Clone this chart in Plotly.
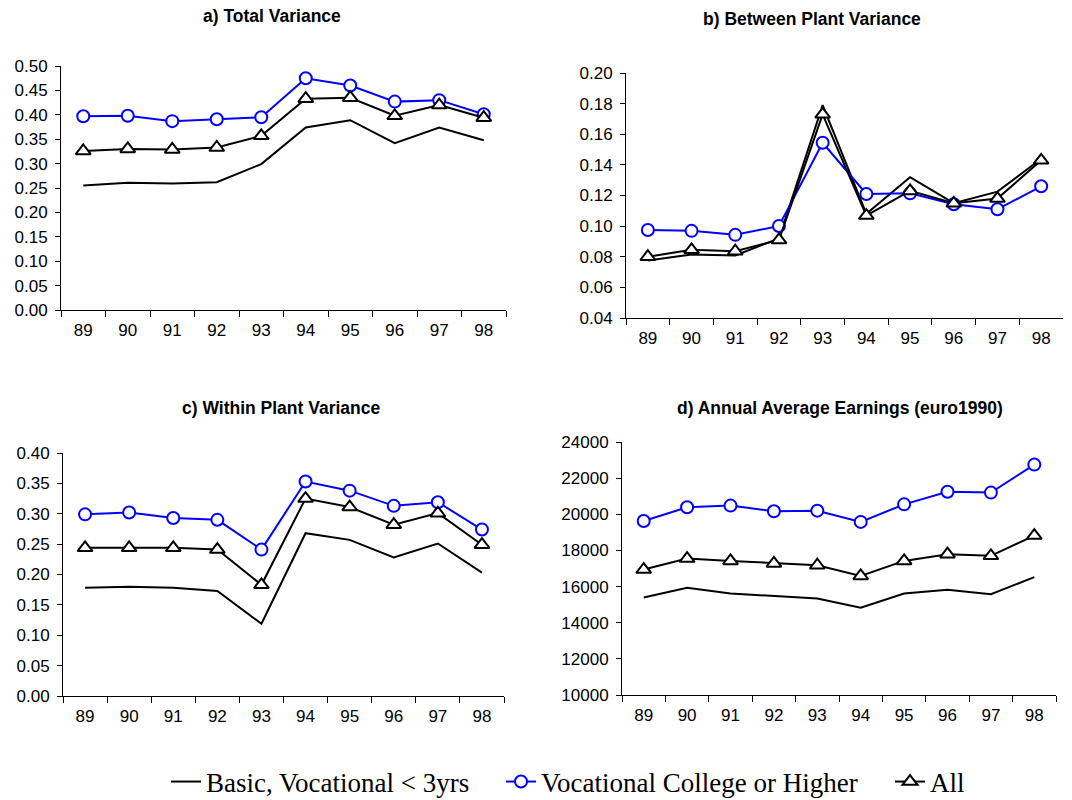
import plotly.graph_objects as go

years = ["89", "90", "91", "92", "93", "94", "95", "96", "97", "98"]

series_names = ["Basic, Vocational < 3yrs", "Vocational College or Higher", "All"]

# a) Total Variance
total_basic = [0.255, 0.261, 0.259, 0.262, 0.299, 0.374, 0.389, 0.342, 0.374, 0.348]
total_voc = [0.397, 0.398, 0.387, 0.391, 0.395, 0.475, 0.460, 0.427, 0.430, 0.401]
total_all = [0.326, 0.330, 0.329, 0.333, 0.357, 0.433, 0.435, 0.398, 0.420, 0.394]

# b) Between Plant Variance
between_basic = [0.0775, 0.0815, 0.0808, 0.092, 0.179, 0.108, 0.132, 0.115, 0.1225, 0.144]
between_voc = [0.0975, 0.0969, 0.0943, 0.1001, 0.1544, 0.121, 0.1214, 0.1143, 0.111, 0.126]
between_all = [0.080, 0.0845, 0.0836, 0.091, 0.173, 0.1069, 0.123, 0.1149, 0.118, 0.143]

# c) Within Plant Variance
within_basic = [0.178, 0.180, 0.178, 0.173, 0.119, 0.268, 0.257, 0.228, 0.251, 0.203]
within_voc = [0.299, 0.302, 0.293, 0.290, 0.241, 0.353, 0.338, 0.313, 0.319, 0.274]
within_all = [0.244, 0.244, 0.244, 0.241, 0.183, 0.325, 0.311, 0.282, 0.301, 0.249]

# d) Annual Average Earnings (euro1990)
earn_basic = [15400, 15930, 15620, 15490, 15340, 14830, 15620, 15820, 15580, 16520]
earn_voc = [19630, 20390, 20480, 20170, 20200, 19580, 20550, 21250, 21200, 22750]
earn_all = [16940, 17550, 17420, 17280, 17180, 16590, 17420, 17790, 17700, 18820]

panels = [
    ("a) Total Variance", [total_basic, total_voc, total_all]),
    ("b) Between Plant Variance", [between_basic, between_voc, between_all]),
    ("c) Within Plant Variance", [within_basic, within_voc, within_all]),
    ("d) Annual Average Earnings (euro1990)", [earn_basic, earn_voc, earn_all]),
]

W, H = 1072, 800

# plot-area pixel boxes: (left, right, top, bottom)
boxes = [
    (61, 506, 66, 310),
    (626, 1063, 73, 318),
    (63, 504, 453, 696),
    (622, 1056, 442, 695),
]
y_ranges = [[0, 0.5], [0.04, 0.2], [0, 0.4], [10000, 24000]]
y_dticks = [0.05, 0.02, 0.05, 2000]
y_formats = [".2f", ".2f", ".2f", "d"]
title_pos = [(272, 16), (812, 19), (281, 408), (840, 408)]

styles = [
    dict(mode="lines", line=dict(color="black", width=2)),
    dict(mode="lines+markers", line=dict(color="#0000ff", width=2),
         marker=dict(symbol="circle", size=12, color="white",
                     line=dict(color="#0000ff", width=2))),
    dict(mode="lines+markers", line=dict(color="black", width=2),
         marker=dict(symbol="triangle-up", size=13, color="white",
                     line=dict(color="black", width=2))),
]

# one legend per series so each entry sits at its own spot along the bottom
legend_ids = ["legend", "legend2", "legend3"]
legend_left = [166, 501, 890]

fig = go.Figure()
tick_font = dict(family="Liberation Sans, Arial, sans-serif", size=17, color="black")

for i, (title, data) in enumerate(panels):
    ax = "" if i == 0 else str(i + 1)
    for j, vals in enumerate(data):
        fig.add_trace(go.Scatter(
            x=years, y=vals, name=series_names[j],
            xaxis="x" + ax, yaxis="y" + ax,
            legend=legend_ids[j],
            showlegend=(i == 0), hoverinfo="skip", **styles[j]))

    l, r, t, b = boxes[i]
    fig.layout["xaxis" + ax] = dict(
        domain=[l / W, r / W], anchor="y" + ax, type="category",
        range=[-0.5, 9.5], tickson="boundaries", ticks="outside",
        ticklen=6, tickcolor="black", tickwidth=1, showline=True,
        linecolor="black", linewidth=1, showgrid=False, zeroline=False,
        tickfont=tick_font, ticklabelstandoff=5)
    fig.layout["yaxis" + ax] = dict(
        domain=[(H - b) / H, (H - t) / H], anchor="x" + ax,
        range=y_ranges[i], dtick=y_dticks[i], tick0=y_ranges[i][0],
        tickformat=y_formats[i], ticks="outside", ticklen=5,
        tickcolor="black", tickwidth=1, showline=True, linecolor="black",
        linewidth=1, showgrid=False, zeroline=False, tickfont=tick_font,
        ticklabelstandoff=4)

    tx, ty = title_pos[i]
    fig.add_annotation(
        text="<b>" + title + "</b>", x=tx / W, y=(H - ty) / H,
        xref="paper", yref="paper", xanchor="center", yanchor="middle",
        showarrow=False,
        font=dict(family="Liberation Sans, Arial, sans-serif", size=17.5, color="black"))

legend_font = dict(family="Liberation Serif, Times New Roman, serif", size=27, color="black")
legend_layout = {}
for lid, lx in zip(legend_ids, legend_left):
    legend_layout[lid] = dict(
        orientation="h", x=lx / W, xanchor="left", y=(H - 782) / H,
        yanchor="middle", font=legend_font, bgcolor="rgba(0,0,0,0)",
        borderwidth=0)

fig.update_layout(
    width=W, height=H,
    margin=dict(l=0, r=0, t=0, b=0, autoexpand=False),
    paper_bgcolor="white", plot_bgcolor="white",
    **legend_layout,
)

fig.write_html("out.html")
